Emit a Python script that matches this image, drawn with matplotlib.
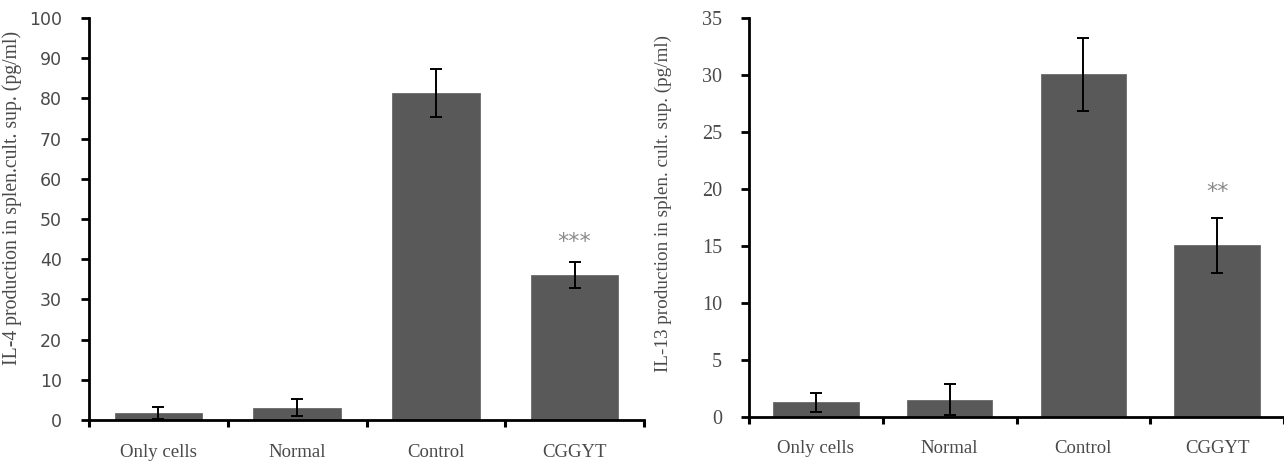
import numpy as np
import matplotlib.pyplot as plt

# bar groups and values
groups = ['Only cells', 'Normal', 'Control', 'CGGYT']

il4_mean = [1.8, 3.1, 81.3, 36.0]
il4_err = [1.5, 2.0, 5.9, 3.25]
il4_ticks = [0, 10, 20, 30, 40, 50, 60, 70, 80, 90, 100]
il4_label = 'IL-4 production in splen.cult. sup. (pg/ml)'
il4_stars = '***'

il13_mean = [1.25, 1.5, 30.1, 15.05]
il13_err = [0.8, 1.35, 3.2, 2.4]
il13_ticks = [0, 5, 10, 15, 20, 25, 30, 35]
il13_label = 'IL-13 production in splen. cult. sup. (pg/ml)'
il13_stars = '**'

BAR = '#595959'
TXT = '#4a4a4a'
SERIF = 'Liberation Serif'


def draw_panel(ax, means, errs, ticks, xmax, bar_w, ytick_font, ytick_size, stars, star_off):
    '''draw one bar panel with error bars, boundary ticks and a significance mark'''
    x = np.arange(len(means)) + 0.5
    ax.bar(x, means, width=bar_w, color=BAR, edgecolor='#6a6a6a', linewidth=0.6, zorder=2)
    ax.errorbar(x, means, yerr=errs, fmt='none', ecolor='black', elinewidth=1.4,
                capsize=4.3, capthick=1.4, zorder=3)

    ax.set_xlim(0, xmax)
    ax.set_ylim(ticks[0], ticks[-1])
    ax.set_yticks(ticks)
    ax.set_yticklabels([str(t) for t in ticks], fontfamily=ytick_font,
                       fontsize=ytick_size, color=TXT)

    # category names at bar centres, tick marks at the group borders
    ax.set_xticks(x)
    ax.set_xticklabels(groups, fontfamily=SERIF, fontsize=13.5, color=TXT)
    ax.set_xticks(np.arange(len(means) + 1), minor=True)
    ax.tick_params(axis='x', which='major', length=0, pad=17)
    ax.tick_params(axis='x', which='minor', direction='out', length=5, width=2.2)
    ax.tick_params(axis='y', direction='out', length=6, width=2, pad=13.5)

    for side in ['top', 'right']:
        ax.spines[side].set_visible(False)
    for side in ['left', 'bottom']:
        ax.spines[side].set_linewidth(2)
        ax.spines[side].set_color('black')

    # significance mark over the treated group
    i = len(means) - 1
    ax.annotate(stars, xy=(x[i], means[i] + errs[i]), xytext=(0, star_off),
                textcoords='offset pixels', ha='center', va='center',
                fontsize=16, color='#8a8a8a', fontfamily='DejaVu Sans')


fig = plt.figure(figsize=(12.84, 4.68), dpi=100)

# left panel: IL-4
ax1 = fig.add_axes([89 / 1284, 48 / 468, 555 / 1284, 402 / 468])
draw_panel(ax1, il4_mean, il4_err, il4_ticks, 4.0, 0.63, 'DejaVu Sans', 12.5, il4_stars, 20)
fig.text(12 / 1284, (468 - 365) / 468, il4_label, rotation=90, ha='center', va='bottom',
         fontfamily=SERIF, fontsize=14.2, color=TXT)

# right panel: IL-13, its x axis runs off the right edge
ax2 = fig.add_axes([749 / 1284, 51.3 / 468, 535 / 1284, 398.4 / 468])
draw_panel(ax2, il13_mean, il13_err, il13_ticks, 535 / 134.5, 0.64, SERIF, 14.5, il13_stars, 26)
fig.text(663 / 1284, (468 - 372) / 468, il13_label, rotation=90, ha='center', va='bottom',
         fontfamily=SERIF, fontsize=13.8, color=TXT)

fig.savefig('out.png', dpi=100)
